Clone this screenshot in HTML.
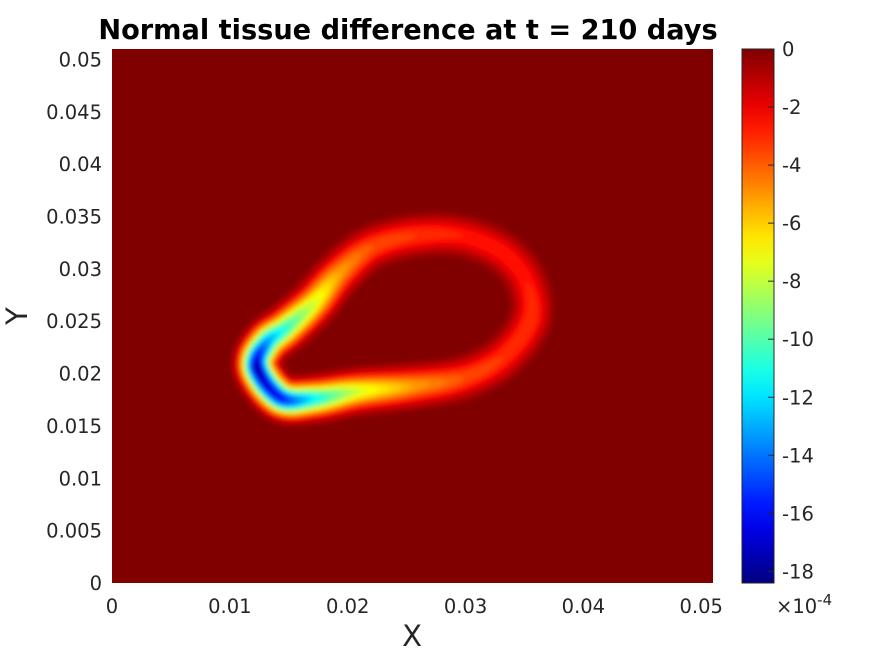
<!DOCTYPE html>
<html><head><meta charset="utf-8"><style>
html,body{margin:0;padding:0;background:#fff;}
svg{display:block;font-family:"DejaVu Sans","Liberation Sans",sans-serif;}
</style></head><body>
<svg id="c" width="891" height="656" xmlns="http://www.w3.org/2000/svg">
<defs>
<filter id="blur" x="-20%" y="-20%" width="140%" height="140%"><feGaussianBlur stdDeviation="2.5"/></filter>
<clipPath id="clip"><rect x="112" y="49" width="601" height="534"/></clipPath>
<linearGradient id="jetgrad" x1="0" y1="1" x2="0" y2="0"></linearGradient>
</defs>
<text x="408" y="39" text-anchor="middle" font-size="27.2" font-weight="bold" fill="#000">Normal tissue difference at t = 210 days</text>
<rect x="112" y="49" width="601" height="534" fill="#800000"/>
<g id="field" clip-path="url(#clip)" filter="url(#blur)"></g>
<g id="xt"></g>
<g id="yt"></g>
<text x="412" y="646" text-anchor="middle" font-size="29" fill="#262626">X</text>
<text x="27" y="316" text-anchor="middle" font-size="29" fill="#262626" transform="rotate(-90 27 316)">Y</text>
<rect x="742" y="49" width="32" height="534" fill="url(#jetgrad)" stroke="#262626" stroke-width="1"/>
<g id="ct"></g>
<text x="776" y="613" font-size="19.5" fill="#262626">×10<tspan dy="-8" font-size="15">-4</tspan></text>
</svg>
<script>
const xTicks=[0,0.01,0.02,0.03,0.04,0.05];
const xTickLabels=["0","0.01","0.02","0.03","0.04","0.05"];
const yTicks=[0,0.005,0.01,0.015,0.02,0.025,0.03,0.035,0.04,0.045,0.05];
const yTickLabels=["0","0.005","0.01","0.015","0.02","0.025","0.03","0.035","0.04","0.045","0.05"];
const cTicks=[0,-2,-4,-6,-8,-10,-12,-14,-16,-18];
const cTickLabels=["0","-2","-4","-6","-8","-10","-12","-14","-16","-18"];
// ridge of the difference field (closed loop), data coords, and value (x1e-4)
const ridgeX=[0.0123,0.0143,0.0171,0.0208,0.0255,0.0298,0.0332,0.0355,0.0352,0.0332,0.0298,0.0259,0.0221,0.0193,0.0171,0.0148,0.0131];
const ridgeY=[0.0206,0.0177,0.0176,0.0183,0.0188,0.0196,0.0216,0.0251,0.0287,0.0315,0.0331,0.0332,0.0321,0.0296,0.0267,0.0244,0.0229];
const ridgeV=[-18.2,-16.5,-12,-8,-5.5,-4,-3.5,-3.5,-3,-3,-3,-3.5,-4,-5.5,-8,-11,-14];

const X0=112,X1=713,Y0=583,Y1=49,XMAX=0.051,YMAX=0.051;
const CMIN=-18.4,CMAX=0;
const sx=v=>X0+v/XMAX*(X1-X0);
const sy=v=>Y0-v/YMAX*(Y0-Y1);
const sc=v=>Y0-(v-CMIN)/(CMAX-CMIN)*(Y0-Y1);
const NS="http://www.w3.org/2000/svg";
const cl=x=>Math.max(0,Math.min(1,x));
function jet(v){const t=(v-CMIN)/(CMAX-CMIN);
 const r=cl(1.5-Math.abs(4*t-3)),g=cl(1.5-Math.abs(4*t-2)),b=cl(1.5-Math.abs(4*t-1));
 return `rgb(${Math.round(r*255)},${Math.round(g*255)},${Math.round(b*255)})`;}
function mk(tag,attrs,parent){const e=document.createElementNS(NS,tag);for(const k in attrs)e.setAttribute(k,attrs[k]);parent.appendChild(e);return e;}

const grad=document.getElementById('jetgrad');
for(let i=0;i<=20;i++){const v=CMIN+(CMAX-CMIN)*i/20;mk('stop',{offset:(i/20),'stop-color':jet(v)},grad);}

const xt=document.getElementById('xt');
xTicks.forEach((v,i)=>{const t=mk('text',{x:sx(v),y:613,'text-anchor':'middle','font-size':19.5,fill:'#262626'},xt);t.textContent=xTickLabels[i];

});
const yt=document.getElementById('yt');
yTicks.forEach((v,i)=>{const t=mk('text',{x:102,y:sy(v)+7,'text-anchor':'end','font-size':19.5,fill:'#262626'},yt);t.textContent=yTickLabels[i];

});
const ct=document.getElementById('ct');
cTicks.forEach((v,i)=>{const y=sc(v);
const l=mk('line',{x1:768,x2:774,y1:y,y2:y,stroke:'#262626','stroke-width':1},ct);


const t=mk('text',{x:782,y:y+7,'font-size':19.5,fill:'#262626'},ct);t.textContent=cTickLabels[i];

});

// field: gaussian cross-section layers along a smooth (Catmull-Rom) ridge
const field=document.getElementById('field');
const n=ridgeX.length;const P=ridgeX.map((x,i)=>[sx(x),sy(ridgeY[i]),ridgeV[i]]);
function cr(a,b,c,d,t){const t2=t*t,t3=t2*t;return 0.5*((2*b)+(-a+c)*t+(2*a-5*b+4*c-d)*t2+(-a+3*b-3*c+d)*t3);}
const samples=[];
for(let i=0;i<n;i++){const a=P[(i-1+n)%n],b=P[i],c=P[(i+1)%n],d=P[(i+2)%n];
 const len=Math.hypot(c[0]-b[0],c[1]-b[1]);const steps=Math.max(4,Math.ceil(len/2));
 for(let s=0;s<steps;s++){const t=s/steps;samples.push([cr(a[0],b[0],c[0],d[0],t),cr(a[1],b[1],c[1],d[1],t),b[2]+(c[2]-b[2])*t]);}}
const levels=[];for(let k=0.5;k<=18.2;k+=0.5)levels.push(k);
levels.forEach(k=>{const col=jet(-k);
 const g=mk('g',{fill:col},field);
 
 
 samples.forEach(p=>{const a=-p[2];if(a>k){const s=12-0.12*a;const r=s*Math.sqrt(2*Math.log(a/k));
  if(r>0.6)mk('circle',{cx:p[0].toFixed(1),cy:p[1].toFixed(1),r:r.toFixed(2)},g);}});});
</script>
</body></html>
